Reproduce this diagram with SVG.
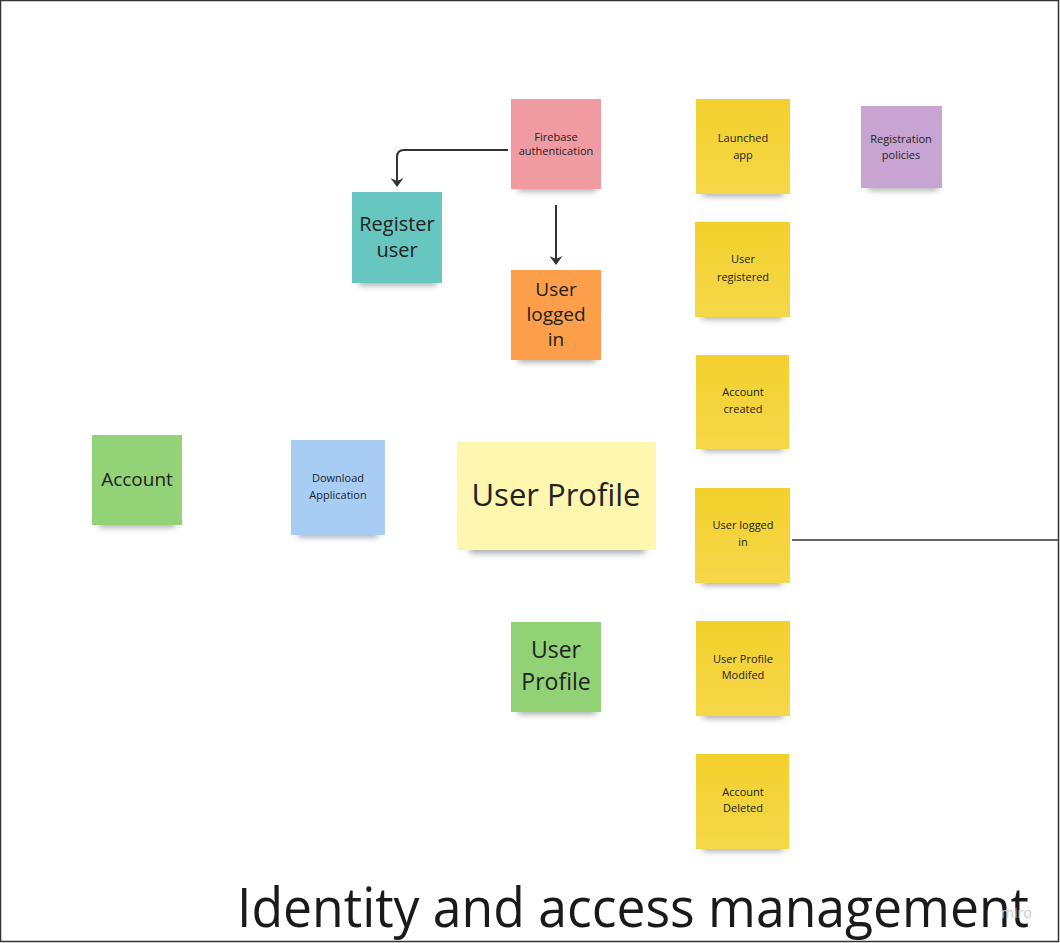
<svg xmlns="http://www.w3.org/2000/svg" width="1060" height="943" viewBox="0 0 1060 943">
<defs>
<filter id="sh" x="-30%" y="-100%" width="160%" height="300%"><feGaussianBlur stdDeviation="3"/></filter>
<marker id="arr" viewBox="0 0 9 13" refX="8" refY="6.5" markerWidth="9" markerHeight="13" markerUnits="userSpaceOnUse" orient="auto">
<path d="M0,0 L9,6.5 L0,13 L3,6.5 Z" fill="#333"/>
</marker>
<linearGradient id="gY" x1="0" y1="0" x2="0" y2="1"><stop offset="0" stop-color="#f3d02b"/><stop offset="1" stop-color="#f5d84a"/></linearGradient>
</defs>
<style>
.t{font-family:"Open Sans","Noto Sans","Liberation Sans",sans-serif;fill:#222;text-anchor:middle}
.s{font-size:11px}
.shd{fill:#555;opacity:0.55;filter:url(#sh)}
.con{fill:none;stroke:#333;stroke-width:2}
</style>
<rect x="0" y="0" width="1060" height="943" fill="#ffffff"/>
<rect x="0.5" y="0.5" width="1058" height="941" fill="none" stroke="#333" stroke-width="1.5"/>

<g id="connectors">
<path class="con" d="M508,150 H404 Q397,150 397,157 V186" marker-end="url(#arr)"/>
<path class="con" d="M556,205 V264" marker-end="url(#arr)"/>
<path d="M792,540 H1059" fill="none" stroke="#333" stroke-width="1.5"/>
</g>

<g id="firebase">
<rect class="shd" x="518" y="184" width="78" height="7"/>
<rect x="511" y="99" width="90" height="90" fill="#f09aa2"/>
<text class="t s" x="556" y="141">Firebase</text>
<text class="t s" x="556" y="155">authentication</text>
</g>
<g id="register-user">
<rect class="shd" x="359" y="278" width="78" height="7"/>
<rect x="352" y="192" width="90" height="91" fill="#67c6c0"/>
<text class="t" font-size="20" x="397" y="231">Register</text>
<text class="t" font-size="20" x="397" y="257">user</text>
</g>
<g id="user-logged-in-orange">
<rect class="shd" x="518" y="355" width="78" height="7"/>
<rect x="511" y="270" width="90" height="90" fill="#fd9e4b"/>
<text class="t" font-size="19" x="556" y="296">User</text>
<text class="t" font-size="19" x="556" y="321">logged</text>
<text class="t" font-size="19" x="556" y="346">in</text>
</g>
<g id="launched-app">
<rect class="shd" x="703" y="189" width="80" height="7"/>
<rect x="696" y="99" width="94" height="95" fill="url(#gY)"/>
<text class="t s" x="743" y="142">Launched</text>
<text class="t s" x="743" y="159">app</text>
</g>
<g id="registration-policies">
<rect class="shd" x="868" y="183" width="70" height="7"/>
<rect x="861" y="106" width="81" height="82" fill="#c8a4d3"/>
<text class="t s" x="901" y="143">Registration</text>
<text class="t s" x="901" y="159">policies</text>
</g>
<g id="user-registered">
<rect class="shd" x="702" y="312" width="80" height="7"/>
<rect x="695" y="222" width="95" height="95" fill="url(#gY)"/>
<text class="t s" x="743" y="263">User</text>
<text class="t s" x="743" y="281">registered</text>
</g>
<g id="account-created">
<rect class="shd" x="703" y="444" width="80" height="7"/>
<rect x="696" y="355" width="93" height="94" fill="url(#gY)"/>
<text class="t s" x="743" y="396">Account</text>
<text class="t s" x="743" y="413">created</text>
</g>
<g id="user-logged-in">
<rect class="shd" x="702" y="578" width="80" height="7"/>
<rect x="695" y="488" width="95" height="95" fill="url(#gY)"/>
<text class="t s" x="743" y="529">User logged</text>
<text class="t s" x="743" y="546">in</text>
</g>
<g id="user-profile-modified">
<rect class="shd" x="703" y="711" width="80" height="7"/>
<rect x="696" y="621" width="94" height="95" fill="url(#gY)"/>
<text class="t s" x="743" y="663">User Profile</text>
<text class="t s" x="743" y="679">Modifed</text>
</g>
<g id="account-deleted">
<rect class="shd" x="703" y="844" width="80" height="7"/>
<rect x="696" y="754" width="93" height="95" fill="url(#gY)"/>
<text class="t s" x="743" y="796">Account</text>
<text class="t s" x="743" y="812">Deleted</text>
</g>
<g id="account">
<rect class="shd" x="99" y="520" width="76" height="7"/>
<rect x="92" y="435" width="90" height="90" fill="#93d277"/>
<text class="t" font-size="19" x="137" y="486">Account</text>
</g>
<g id="download-application">
<rect class="shd" x="298" y="530" width="80" height="7"/>
<rect x="291" y="440" width="94" height="95" fill="#a8cdf5"/>
<text class="t s" x="338" y="482">Download</text>
<text class="t s" x="338" y="499">Application</text>
</g>
<g id="user-profile-large">
<rect class="shd" x="470" y="545" width="175" height="8"/>
<rect x="457" y="442" width="199" height="108" fill="#fff6b0"/>
<text class="t" font-size="31" x="556" y="506">User Profile</text>
</g>
<g id="user-profile-green">
<rect class="shd" x="518" y="707" width="78" height="7"/>
<rect x="511" y="622" width="90" height="90" fill="#91d276"/>
<text class="t" font-size="23" x="556" y="658">User</text>
<text class="t" font-size="23" x="556" y="690">Profile</text>
</g>

<text x="237" y="927" font-family="'Open Sans','Noto Sans','Liberation Sans',sans-serif" font-size="54" fill="#1a1a1a" textLength="792" lengthAdjust="spacingAndGlyphs">Identity and access management</text>
<text x="1001" y="918" font-family="'Open Sans','Noto Sans','Liberation Sans',sans-serif" font-size="14" fill="#c9c9d9">miro</text>
</svg>
